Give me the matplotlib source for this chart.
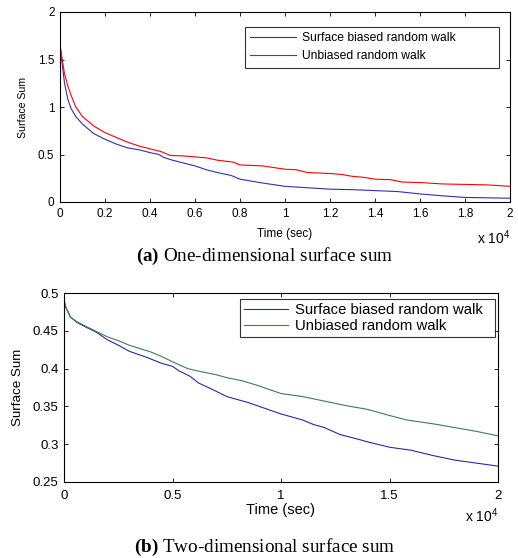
import matplotlib
matplotlib.use("Agg")
import matplotlib.pyplot as plt

# panel (a): one-dimensional surface sum, time in units of 1e4 s
t_a_blue = [0, 0.01, 0.02, 0.035, 0.05, 0.07, 0.1, 0.15, 0.2, 0.25, 0.3, 0.35, 0.4, 0.44, 0.46,
            0.5, 0.55, 0.6, 0.65, 0.7, 0.76, 0.8, 0.85, 0.9, 1.0, 1.1, 1.2, 1.3, 1.4, 1.5, 1.6,
            1.7, 1.8, 1.9, 2.0]
v_a_blue = [1.65, 1.45, 1.25, 1.08, 0.98, 0.9, 0.82, 0.72, 0.66, 0.61, 0.57, 0.55, 0.52, 0.50, 0.47,
            0.44, 0.41, 0.38, 0.34, 0.31, 0.28, 0.24, 0.22, 0.20, 0.165, 0.15, 0.135, 0.13, 0.12, 0.11, 0.085,
            0.065, 0.048, 0.044, 0.04]
t_a_red = [0, 0.01, 0.02, 0.035, 0.05, 0.07, 0.1, 0.15, 0.2, 0.25, 0.3, 0.35, 0.4, 0.45, 0.47,
           0.49, 0.55, 0.6, 0.65, 0.7, 0.77, 0.8, 0.9, 1.0, 1.05, 1.1, 1.2, 1.25, 1.3, 1.35, 1.4, 1.47,
           1.52, 1.6, 1.7, 1.8, 1.9, 2.0]
v_a_red = [1.65, 1.5, 1.35, 1.22, 1.12, 1.0, 0.9, 0.8, 0.73, 0.68, 0.63, 0.59, 0.56, 0.53, 0.51,
           0.49, 0.485, 0.475, 0.465, 0.44, 0.42, 0.39, 0.38, 0.345, 0.34, 0.31, 0.30, 0.29, 0.27, 0.26, 0.24, 0.235,
           0.21, 0.205, 0.19, 0.185, 0.18, 0.165]

# panel (b): two-dimensional surface sum
t_b_blue = [0, 0.01, 0.03, 0.06, 0.1, 0.15, 0.2, 0.25, 0.3, 0.38, 0.45, 0.5, 0.53, 0.58, 0.62,
            0.68, 0.75, 0.85, 0.95, 1.0, 1.1, 1.15, 1.2, 1.27, 1.35, 1.4, 1.5, 1.6, 1.7, 1.8, 1.9, 2.0]
v_b_blue = [0.49, 0.48, 0.468, 0.461, 0.455, 0.448, 0.438, 0.431, 0.423, 0.415, 0.407, 0.403, 0.397, 0.39, 0.381,
            0.373, 0.363, 0.355, 0.345, 0.340, 0.332, 0.326, 0.322, 0.313, 0.307, 0.303, 0.296, 0.292, 0.285, 0.279, 0.275, 0.271]
t_b_green = [0, 0.01, 0.03, 0.06, 0.1, 0.15, 0.2, 0.25, 0.3, 0.4, 0.45, 0.5, 0.57, 0.63, 0.7, 0.75,
             0.82, 0.9, 1.0, 1.1, 1.2, 1.3, 1.4, 1.5, 1.58, 1.7, 1.8, 1.9, 2.0]
v_b_green = [0.49, 0.48, 0.468, 0.462, 0.456, 0.449, 0.442, 0.437, 0.431, 0.422, 0.416, 0.409, 0.4, 0.396, 0.392, 0.388,
             0.384, 0.377, 0.367, 0.363, 0.357, 0.351, 0.346, 0.338, 0.332, 0.327, 0.322, 0.317, 0.311]

labels = ["Surface biased random walk", "Unbiased random walk"]

plt.rcParams["font.family"] = ["Liberation Sans", "DejaVu Sans"]
plt.rcParams["mathtext.fontset"] = "custom"
plt.rcParams["mathtext.rm"] = "Liberation Sans"
plt.rcParams["mathtext.bf"] = "Liberation Serif:bold"
plt.rcParams["xtick.direction"] = "in"
plt.rcParams["ytick.direction"] = "in"
plt.rcParams["xtick.top"] = True
plt.rcParams["ytick.right"] = True
plt.rcParams["axes.linewidth"] = 0.8

W, H = 518, 558
fig = plt.figure(figsize=(W / 100, H / 100), dpi=100)
serif = ["Liberation Serif", "DejaVu Serif"]

# top panel
ax1 = fig.add_axes([60 / W, 1 - 202 / H, 450 / W, 190 / H])
ax1.plot(t_a_blue, v_a_blue, color="#3030b0", lw=0.8, label=labels[0])
ax1.plot(t_a_red, v_a_red, color="#ff0000", lw=0.8, label=labels[1])
ax1.set_xlim(0, 2)
ax1.set_ylim(0, 2)
ax1.set_xticks([0, 0.2, 0.4, 0.6, 0.8, 1, 1.2, 1.4, 1.6, 1.8, 2])
ax1.set_xticklabels(["0", "0.2", "0.4", "0.6", "0.8", "1", "1.2", "1.4", "1.6", "1.8", "2"])
ax1.set_yticks([0, 0.5, 1, 1.5, 2])
ax1.set_yticklabels(["0", "0.5", "1", "1.5", "2"])
ax1.tick_params(labelsize=8.5, length=3, width=0.6, pad=4)
ax1.set_xlabel("Time (sec)", fontsize=8.5, labelpad=6)
ax1.set_ylabel("Surface Sum", fontsize=7.6, labelpad=7)
leg = ax1.legend(loc="upper left", bbox_to_anchor=(0.411, 0.716, 0.565, 0.205), mode="expand",
                 fontsize=8.7, frameon=True, fancybox=False, edgecolor="black",
                 handlelength=3.8, borderpad=0.45, labelspacing=0.5, handletextpad=0.45,
                 borderaxespad=0)
leg.get_frame().set_linewidth(0.8)
ax1.text(1.0, -0.19, "x 10$^{4}$", transform=ax1.transAxes, ha="right", va="center", fontsize=10)
fig.text(265 / W, 1 - 256 / H, r"$\mathbf{(a)}$ One-dimensional surface sum", ha="center", va="center",
         fontsize=13.8, family=serif)

# bottom panel
ax2 = fig.add_axes([64 / W, 1 - 482 / H, 434 / W, 189 / H])
ax2.plot(t_b_blue, v_b_blue, color="#2b2b9a", lw=0.8, label=labels[0])
ax2.plot(t_b_green, v_b_green, color="#3c7d5c", lw=0.8, label=labels[1])
ax2.set_xlim(0, 2)
ax2.set_ylim(0.25, 0.5)
ax2.set_xticks([0, 0.5, 1, 1.5, 2])
ax2.set_xticklabels(["0", "0.5", "1", "1.5", "2"])
ax2.set_yticks([0.25, 0.3, 0.35, 0.4, 0.45, 0.5])
ax2.set_yticklabels(["0.25", "0.3", "0.35", "0.4", "0.45", "0.5"])
ax2.tick_params(labelsize=9.5, length=3, width=0.6, pad=4)
ax2.tick_params(axis="x", pad=6)
ax2.set_xlabel("Time (sec)", fontsize=10.5, labelpad=0.5)
ax2.set_ylabel("Surface Sum", fontsize=9.6, labelpad=6)
leg2 = ax2.legend(loc="upper left", bbox_to_anchor=(0.4055, 0.778, 0.5875, 0.19), mode="expand",
                  fontsize=10.7, frameon=True, fancybox=False, edgecolor="black",
                  handlelength=3.0, borderpad=0.25, labelspacing=0.15, handletextpad=0.45,
                  borderaxespad=0)
leg2.get_frame().set_linewidth(0.8)
ax2.text(1.0, -0.18, "x 10$^{4}$", transform=ax2.transAxes, ha="right", va="center", fontsize=10)
fig.text(265 / W, 1 - 547 / H, r"$\mathbf{(b)}$ Two-dimensional surface sum", ha="center", va="center",
         fontsize=13.8, family=serif)

fig.savefig("out.png", dpi=100)
